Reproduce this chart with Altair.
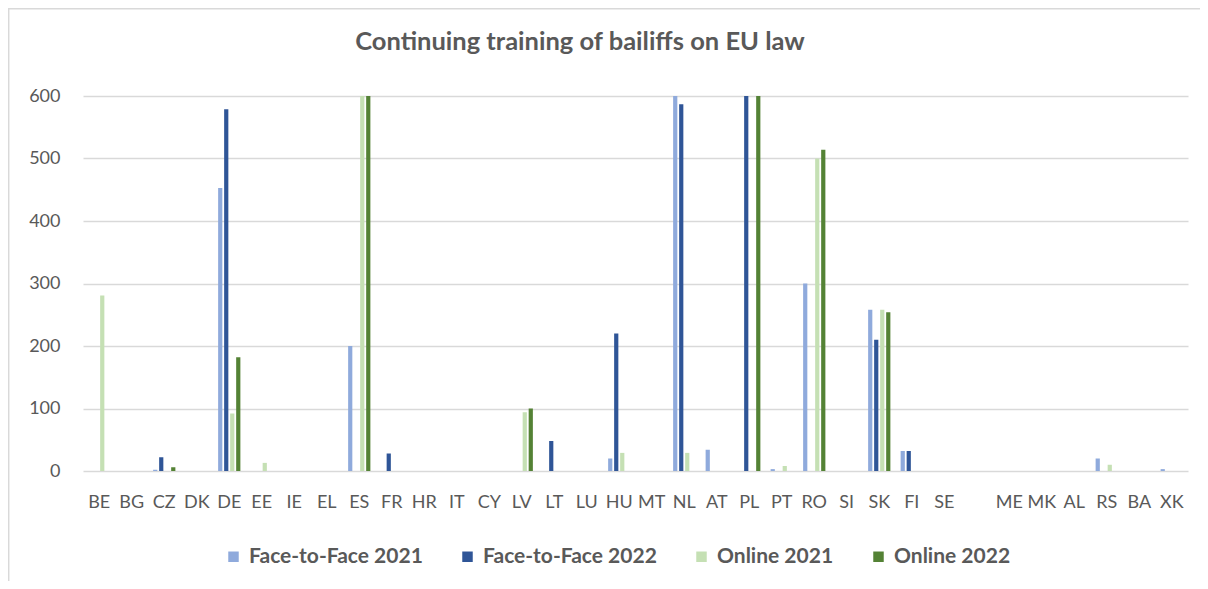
import altair as alt
import pandas as pd

categories = ["BE", "BG", "CZ", "DK", "DE", "EE", "IE", "EL", "ES", "FR", "HR", "IT",
              "CY", "LV", "LT", "LU", "HU", "MT", "NL", "AT", "PL", "PT", "RO", "SI",
              "SK", "FI", "SE", " ", "ME", "MK", "AL", "RS", "BA", "XK"]

#                 BE BG CZ DK  DE EE IE EL  ES FR HR IT CY LV LT LU HU MT  NL AT  PL PT  RO SI  SK FI SE __ ME MK AL RS BA XK
face_2021 =     [  0, 0, 2, 0, 453, 0, 0, 0, 200, 0, 0, 0, 0, 0, 0, 0, 20, 0, 600, 34,  0, 3, 300, 0, 258, 32, 0, 0, 0, 0, 0, 20, 0, 3]
face_2022 =     [  0, 0, 22, 0, 579, 0, 0, 0,  0, 28, 0, 0, 0, 0, 48, 0, 220, 0, 587, 0, 600, 0,   0, 0, 210, 32, 0, 0, 0, 0, 0, 0, 0, 0]
online_2021 =   [281, 0, 0, 0,  92, 13, 0, 0, 600, 0, 0, 0, 0, 94, 0, 0, 29, 0, 29, 0,  0, 8, 500, 0, 258, 0, 0, 0, 0, 0, 0, 10, 0, 0]
online_2022 =   [  0, 0, 6, 0, 182, 0, 0, 0, 600, 0, 0, 0, 0, 100, 0, 0, 0, 0, 0, 0, 600, 0, 514, 0, 254, 0, 0, 0, 0, 0, 0, 0, 0, 0]

series_names = ["Face-to-Face 2021", "Face-to-Face 2022", "Online 2021", "Online 2022"]
series_colors = ["#8faadc", "#2f5597", "#c5e0b4", "#548235"]
y_ticks = [0, 100, 200, 300, 400, 500, 600]
chart_title = "Continuing training of bailiffs on EU law"

rows = []
for name, vals in zip(series_names, [face_2021, face_2022, online_2021, online_2022]):
    for c, v in zip(categories, vals):
        rows.append({"country": c, "series": name, "value": v})
df = pd.DataFrame(rows)

FONT = "Lato"
TXT = "#595959"

bars = alt.Chart(df).mark_bar().encode(
    x=alt.X("country:N", sort=categories,
            scale=alt.Scale(paddingInner=0.26, paddingOuter=0.13),
            axis=alt.Axis(title=None, labelAngle=0, ticks=False, tickSize=0, domain=False,
                          labelPadding=22, labelFontSize=18, labelFont=FONT, labelColor=TXT,
                          grid=False)),
    xOffset=alt.XOffset("series:N", sort=series_names,
                        scale=alt.Scale(paddingInner=0.3, paddingOuter=0.15)),
    y=alt.Y("value:Q", scale=alt.Scale(domain=[0, 600], nice=False, clamp=True),
            axis=alt.Axis(title=None, values=y_ticks, ticks=False, tickSize=0, domain=False,
                          labelPadding=23, labelFontSize=18, labelFont=FONT, labelColor=TXT,
                          grid=True, gridColor="#d9d9d9", gridWidth=1.3)),
    color=alt.Color("series:N", sort=series_names,
                    scale=alt.Scale(domain=series_names, range=series_colors),
                    legend=alt.Legend(orient="none", legendX=140, legendY=450,
                                      direction="horizontal", title=None,
                                      symbolType="square", symbolSize=110,
                                      symbolStrokeWidth=0, labelFontSize=21,
                                      labelFont=FONT, labelFontWeight="bold",
                                      labelColor=TXT, labelLimit=400,
                                      columnPadding=34, labelOffset=5)),
)

title_df = pd.DataFrame({"t": [chart_title]})
title = alt.Chart(title_df).mark_text(font=FONT, fontSize=25.5, fontWeight="bold", color=TXT,
                                      align="center", baseline="alphabetic").encode(
    text="t:N", x=alt.value(497), y=alt.value(-46))

border_top = alt.Chart(title_df).mark_rule(color="#d9d9d9", strokeWidth=1.5).encode(
    x=alt.value(-75), x2=alt.value(1125), y=alt.value(-87.3))
border_left = alt.Chart(title_df).mark_rule(color="#d9d9d9", strokeWidth=1.5).encode(
    x=alt.value(-74.3), y=alt.value(-88), y2=alt.value(500))

chart = alt.layer(bars, title, border_top, border_left).properties(
    width=1105, height=375,
    autosize=alt.AutoSizeParams(type="none"),
    padding={"left": 75, "top": 88, "right": 12, "bottom": 110},
).configure_view(stroke=None)

chart.save("out.html", embed_options={"renderer": "svg", "actions": False})
